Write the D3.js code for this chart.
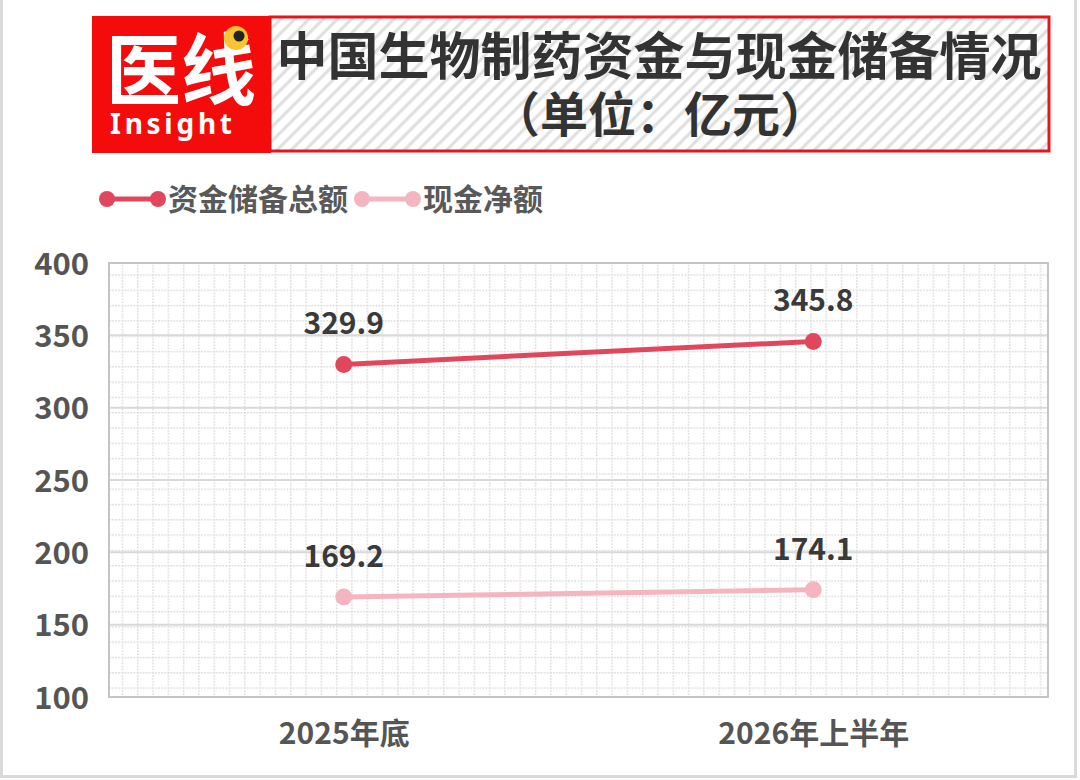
<!DOCTYPE html>
<html>
<head>
<meta charset="utf-8">
<script src="https://cdn.jsdelivr.net/npm/d3@7"></script>
<style>
    body { margin: 0; background: #fff; }
    svg text { font-family: "Noto Sans CJK SC", "Noto Sans", sans-serif; font-weight: 700; }
</style>
</head>
<body>
<div id="wrapper"></div>
<script>
var categories = ['2025年底', '2026年上半年'];
var total_reserve = [329.9, 345.8];
var net_cash = [169.2, 174.1];
var y_ticks = [100, 150, 200, 250, 300, 350, 400];
var series_names = ['资金储备总额', '现金净额'];

var WIDTH = 1080, HEIGHT = 780;
var PLOT = {left: 109, top: 263, right: 1048, bottom: 697};
var COLORS = ['#e1475c', '#f5b5c0'];

var svg = d3.select('#wrapper').append('svg')
    .attr('width', WIDTH)
    .attr('height', HEIGHT);

var defs = svg.append('defs');

// diagonal hatch behind the title
var hatch = defs.append('pattern')
    .attr('id', 'hatch')
    .attr('patternUnits', 'userSpaceOnUse')
    .attr('width', 10)
    .attr('height', 10)
    .attr('patternTransform', 'rotate(45)');
hatch.append('rect').attr('width', 10).attr('height', 10).attr('fill', '#fff');
hatch.append('line')
    .attr('x1', 2).attr('y1', 0).attr('x2', 2).attr('y2', 10)
    .attr('stroke', '#dedede').attr('stroke-width', 3);

// dotted minor grid texture
var STEP = 15.3;
var dots = defs.append('pattern')
    .attr('id', 'dots')
    .attr('patternUnits', 'userSpaceOnUse')
    .attr('x', PLOT.left + 12.7)
    .attr('y', PLOT.top + 11.3)
    .attr('width', STEP)
    .attr('height', STEP);
dots.append('line')
    .attr('x1', 0).attr('y1', 0.75).attr('x2', STEP).attr('y2', 0.75)
    .attr('stroke', '#d6d6d6').attr('stroke-width', 1.5)
    .attr('stroke-dasharray', '1.5,1.5');
dots.append('line')
    .attr('x1', 0.75).attr('y1', 0).attr('x2', 0.75).attr('y2', STEP)
    .attr('stroke', '#d6d6d6').attr('stroke-width', 1.5)
    .attr('stroke-dasharray', '1.5,1.5');

// outer frame
svg.append('rect')
    .attr('x', 1.5).attr('y', -2)
    .attr('width', 1074).attr('height', 778.5)
    .attr('fill', 'none')
    .attr('stroke', '#dadada')
    .attr('stroke-width', 3);

// ---- header ----
var header = svg.append('g').attr('id', 'header');
header.append('rect')
    .attr('x', 270).attr('y', 17)
    .attr('width', 779).attr('height', 134)
    .attr('fill', 'url(#hatch)')
    .attr('stroke', '#e8161c')
    .attr('stroke-width', 3);
header.append('rect')
    .attr('x', 92).attr('y', 16)
    .attr('width', 179).attr('height', 137)
    .attr('fill', '#f40b0b');
header.append('text')
    .attr('x', 106).attr('y', 99)
    .attr('fill', '#fff')
    .style('font-size', '78px')
    .attr('textLength', 150)
    .attr('lengthAdjust', 'spacingAndGlyphs')
    .text('医线');
header.append('text')
    .attr('x', 110).attr('y', 134)
    .attr('fill', '#fff')
    .style('font-family', '"Noto Sans", sans-serif')
    .style('font-size', '28px')
    .attr('textLength', 122)
    .text('Insight');
header.append('circle')
    .attr('cx', 236).attr('cy', 38).attr('r', 12)
    .attr('fill', '#f7c531');
header.append('circle')
    .attr('cx', 239).attr('cy', 36).attr('r', 5.5)
    .attr('fill', '#222');

header.append('text')
    .attr('x', 659).attr('y', 75)
    .attr('text-anchor', 'middle')
    .attr('fill', '#333')
    .style('font-size', '51px')
    .text('中国生物制药资金与现金储备情况');
header.append('text')
    .attr('x', 660).attr('y', 132)
    .attr('text-anchor', 'middle')
    .attr('fill', '#333')
    .style('font-size', '48px')
    .text('（单位：亿元）');

// ---- scales ----
var scale_x = d3.scalePoint()
    .domain(categories)
    .range([PLOT.left, PLOT.right])
    .padding(0.5);
var scale_y = d3.scaleLinear()
    .domain([100, 400])
    .range([PLOT.bottom, PLOT.top]);

// ---- plot background ----
svg.append('rect')
    .attr('x', PLOT.left).attr('y', PLOT.top)
    .attr('width', PLOT.right - PLOT.left)
    .attr('height', PLOT.bottom - PLOT.top)
    .attr('fill', 'url(#dots)');

svg.append('g')
    .attr('id', 'grid')
    .selectAll('line')
    .data(y_ticks)
    .enter()
  .append('line')
    .attr('x1', PLOT.left).attr('x2', PLOT.right)
    .attr('y1', function(d) { return scale_y(d); })
    .attr('y2', function(d) { return scale_y(d); })
    .attr('stroke', '#d9d9d9')
    .attr('stroke-width', 2);

svg.append('rect')
    .attr('x', PLOT.left).attr('y', PLOT.top)
    .attr('width', PLOT.right - PLOT.left)
    .attr('height', PLOT.bottom - PLOT.top)
    .attr('fill', 'none')
    .attr('stroke', '#c4c4c4')
    .attr('stroke-width', 2);

// ---- axes ----
var axis_y = d3.axisLeft(scale_y)
    .tickValues(y_ticks)
    .tickSize(0)
    .tickPadding(20);
var y_axis = svg.append('g')
    .attr('id', 'y-axis')
    .attr('transform', 'translate(' + PLOT.left + ',0)')
    .call(axis_y);
y_axis.select('.domain').remove();
y_axis.selectAll('text')
    .attr('fill', '#555')
    .style('font-size', '31px')
    .attr('dy', '0.36em');

var axis_x = d3.axisBottom(scale_x)
    .tickSize(0)
    .tickPadding(26);
var x_axis = svg.append('g')
    .attr('id', 'x-axis')
    .attr('transform', 'translate(0,' + PLOT.bottom + ')')
    .call(axis_x);
x_axis.select('.domain').remove();
x_axis.selectAll('text')
    .attr('fill', '#555')
    .style('font-size', '30px');

// ---- series ----
var series = [
    {name: series_names[0], values: total_reserve, color: COLORS[0]},
    {name: series_names[1], values: net_cash, color: COLORS[1]}
];

var line = d3.line()
    .x(function(d, i) { return scale_x(categories[i]); })
    .y(function(d) { return scale_y(d); });

var groups = svg.append('g')
    .attr('id', 'draw-area')
    .selectAll('.series')
    .data(series)
    .enter()
  .append('g')
    .classed('series', true);

groups.append('path')
    .attr('d', function(d) { return line(d.values); })
    .attr('fill', 'none')
    .attr('stroke', function(d) { return d.color; })
    .attr('stroke-width', 5);

groups.each(function(s) {
    var g = d3.select(this);
    g.selectAll('circle')
        .data(s.values)
        .enter()
      .append('circle')
        .attr('cx', function(d, i) { return scale_x(categories[i]); })
        .attr('cy', function(d) { return scale_y(d); })
        .attr('r', 8.5)
        .attr('fill', s.color);
    g.selectAll('.value-label')
        .data(s.values)
        .enter()
      .append('text')
        .classed('value-label', true)
        .attr('x', function(d, i) { return scale_x(categories[i]); })
        .attr('y', function(d) { return scale_y(d) - 30; })
        .attr('text-anchor', 'middle')
        .attr('fill', '#3a3a3a')
        .style('font-size', '30px')
        .text(function(d) { return d.toFixed(1); });
});

// ---- legend ----
var legend_pos = [{x: 107, text_x: 168}, {x: 362, text_x: 423}];
var legend = svg.append('g')
    .attr('id', 'legend')
    .selectAll('g')
    .data(series)
    .enter()
  .append('g')
    .attr('transform', function(d, i) { return 'translate(' + legend_pos[i].x + ',199)'; });
legend.append('line')
    .attr('x1', 0).attr('x2', 51)
    .attr('stroke', function(d) { return d.color; })
    .attr('stroke-width', 5);
legend.append('circle').attr('cx', 0).attr('r', 8)
    .attr('fill', function(d) { return d.color; });
legend.append('circle').attr('cx', 51).attr('r', 8)
    .attr('fill', function(d) { return d.color; });
legend.append('text')
    .attr('x', function(d, i) { return legend_pos[i].text_x - legend_pos[i].x; })
    .attr('dy', '0.36em')
    .attr('fill', '#595959')
    .style('font-size', '30px')
    .text(function(d) { return d.name; });
</script>
</body>
</html>
